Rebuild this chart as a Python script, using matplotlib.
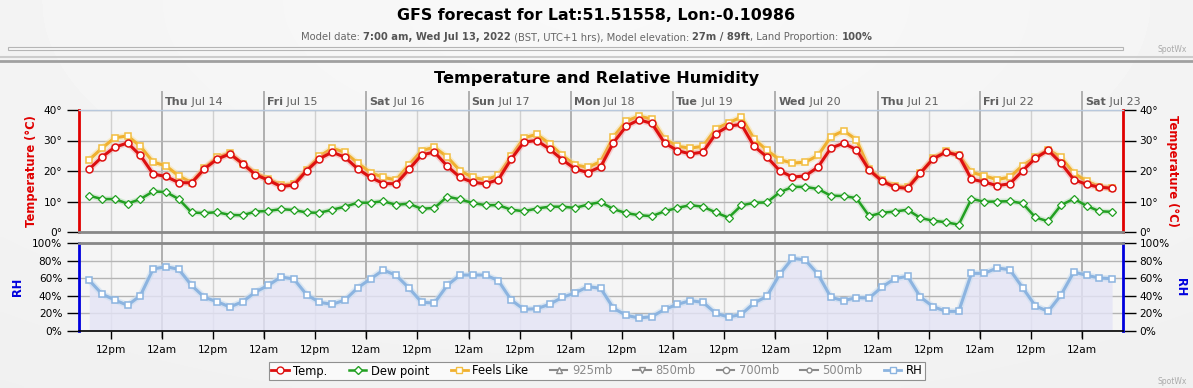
import numpy as np
import pandas as pd
import matplotlib
matplotlib.use("Agg")
import matplotlib.pyplot as plt
import matplotlib.dates as mdates
import matplotlib.patheffects as pe
from matplotlib.lines import Line2D
from matplotlib.patches import Rectangle
from matplotlib.transforms import blended_transform_factory

# 3-hourly GFS output starting at the model time
start = "2022-07-13 07:00"
temp = [20.6, 24.6, 27.8, 29.2, 25.1, 19.0, 18.2, 16.2, 16.1, 20.7, 23.9, 25.6, 22.4, 18.8, 17.0, 14.9,
        15.4, 20.1, 24.0, 26.2, 24.5, 20.7, 17.9, 15.9, 15.8, 20.5, 25.3, 26.2, 21.6, 17.9, 16.3, 15.8, 17.2,
        23.9, 29.5, 30.0, 27.2, 23.7, 20.7, 19.5, 21.4, 29.3, 34.7, 36.8, 35.6, 29.2, 26.7, 25.6, 26.2,
        32.2, 34.7, 35.3, 28.1, 24.6, 20.1, 18.0, 18.4, 21.3, 27.5, 29.1, 27.0, 20.3, 16.7, 14.7, 14.3, 19.3,
        24.0, 26.2, 25.1, 17.3, 16.4, 15.2, 15.8, 20.1, 24.2, 26.8, 22.6, 17.2, 15.6, 14.7, 14.3]
feels_like = [23.7, 27.5, 30.9, 31.5, 28.1, 22.9, 21.7, 18.4, 16.2, 20.9, 24.5, 25.9, 22.4, 19.3, 17.4, 15.4,
              15.8, 20.4, 24.8, 27.5, 26.1, 22.6, 19.5, 17.9, 17.1, 22.0, 26.7, 27.8, 24.6, 20.1, 17.9, 17.1, 18.6,
              24.8, 30.9, 32.0, 29.0, 25.1, 22.0, 21.2, 23.1, 31.2, 36.4, 38.0, 37.0, 30.5, 28.1, 27.5, 28.1,
              33.8, 35.8, 37.7, 30.5, 26.8, 23.7, 22.6, 22.9, 25.1, 31.2, 33.2, 30.3, 20.7, 17.0, 15.1, 14.8, 19.3,
              24.2, 26.4, 25.3, 19.6, 18.4, 17.2, 18.0, 21.8, 24.5, 27.0, 24.5, 19.3, 16.7, 14.9, 14.5]
dew_point = [11.9, 10.8, 10.8, 9.3, 10.8, 13.3, 13.1, 10.8, 6.4, 6.2, 6.5, 5.6, 5.5, 6.7, 6.9, 7.5,
             7.2, 6.4, 6.3, 7.3, 8.3, 9.6, 9.6, 10.1, 8.9, 9.3, 7.6, 7.9, 11.6, 10.7, 9.5, 8.8, 8.8,
             7.3, 6.8, 7.7, 8.3, 8.3, 7.9, 9.0, 9.8, 7.5, 6.2, 5.5, 5.2, 6.8, 7.9, 8.8, 8.3,
             6.4, 4.7, 8.7, 9.6, 9.7, 13.0, 14.8, 14.8, 14.1, 11.9, 11.8, 11.1, 5.2, 6.3, 6.7, 7.3, 4.6,
             3.7, 3.2, 2.4, 10.9, 9.9, 10.0, 10.1, 9.4, 4.8, 3.5, 8.8, 10.9, 8.6, 6.8, 6.6]
rh = [57.6, 42.0, 35.2, 29.2, 40.2, 70.5, 73.1, 70.1, 51.9, 38.3, 33.3, 27.3, 33.3, 44.3, 51.9, 61.4,
      59.1, 41.3, 32.6, 30.3, 35.2, 49.2, 59.1, 69.3, 63.3, 48.9, 32.6, 31.8, 51.9, 63.6, 63.6, 63.6, 57.2,
      35.2, 24.6, 25.4, 30.3, 38.3, 43.2, 50.4, 48.5, 25.8, 17.8, 14.8, 16.3, 24.6, 30.3, 34.5, 32.6,
      20.1, 15.9, 18.9, 31.8, 39.4, 64.4, 82.6, 80.7, 64.4, 38.3, 34.5, 37.9, 37.5, 50.0, 59.5, 62.1, 38.6,
      27.7, 22.3, 22.3, 65.5, 65.5, 71.6, 69.7, 49.2, 28.4, 22.3, 40.9, 67.0, 63.3, 60.2, 59.5]
temp_ticks = [0, 10, 20, 30, 40]
rh_ticks = [0, 20, 40, 60, 80, 100]
legend_labels = ["Temp.", "Dew point", "Feels Like", "925mb", "850mb", "700mb", "500mb", "RH"]

times = pd.date_range(start, periods=len(temp), freq="3h")
day0 = pd.Timestamp("2022-07-13")
xmin = day0 + pd.Timedelta(hours=4.6)
xmax = day0 + pd.Timedelta(hours=249.55)
midnights = pd.date_range("2022-07-14", "2022-07-23", freq="D")
noons = pd.date_range("2022-07-13 12:00", "2022-07-22 12:00", freq="D")

W, H = 1193, 388
fig = plt.figure(figsize=(W / 100, H / 100), dpi=100)


def fx(x):
    return x / W


def fy(y):
    return 1 - y / H


# background gradient
bg = fig.add_axes([0, 0, 1, 1], zorder=-5)
yy, xx = np.mgrid[0:1:100j, 0:1:200j]
shade = 0.975 - 0.035 * np.clip(np.sqrt(((xx - 0.5) * 1.1) ** 2 + (yy * 0.8) ** 2), 0, 1)
bg.imshow(shade, cmap="gray", vmin=0, vmax=1, aspect="auto", extent=[0, 1, 0, 1], interpolation="bilinear")
bg.set_xlim(0, 1)
bg.set_ylim(0, 1)
bg.axis("off")

# header
fig.text(0.5, fy(16), "GFS forecast for Lat:51.51558, Lon:-0.10986", ha="center", va="center",
         fontsize=11.4, fontweight="bold")
parts = [("Model date: ", "normal"), ("7:00 am, Wed Jul 13, 2022", "bold"),
         (" (BST, UTC+1 hrs), Model elevation: ", "normal"), ("27m / 89ft", "bold"),
         (", Land Proportion: ", "normal"), ("100%", "bold")]
prev = bg.text(fx(301), fy(37), parts[0][0], ha="left", va="center", fontsize=7.2, color="#666666")
for txt, wt in parts[1:]:
    prev = bg.annotate(txt, xy=(1, 0), xycoords=prev, ha="left", va="bottom", fontsize=7.2,
                       fontweight=wt, color="#555555" if wt == "bold" else "#666666")

fig.patches.append(Rectangle((fx(8), fy(50)), fx(1115), 3 / H, transform=fig.transFigure,
                             facecolor="#f6f6f6", edgecolor="#b5b5b5", lw=0.8))
fig.text(fx(1172), fy(50), "SpotWx", ha="center", va="center", fontsize=5.5, color="#aaaaaa")
fig.add_artist(Line2D([0, 1], [fy(57), fy(57)], transform=fig.transFigure, color="#cccccc", lw=1.5))
fig.add_artist(Line2D([0, 1], [fy(60.5), fy(60.5)], transform=fig.transFigure, color="#a0a0a0", lw=2))
fig.text(0.5, fy(78), "Temperature and Relative Humidity", ha="center", va="center",
         fontsize=11.6, fontweight="bold")
fig.text(fx(1172), fy(381), "SpotWx", ha="center", va="center", fontsize=5.5, color="#aaaaaa")

# panel axes
L, R = 79, 1123
ax_t = fig.add_axes([fx(L), fy(232), fx(R - L), (232 - 110) / H], facecolor="none")
ax_h = fig.add_axes([fx(L), fy(331), fx(R - L), (331 - 243) / H], facecolor="none")

# plot area background and midnight lines (figure level, behind the panels)
fig.patches.append(Rectangle((fx(L), fy(331)), fx(R - L), (331 - 110) / H, transform=fig.transFigure,
                             facecolor="#f5f5f5", edgecolor="none", zorder=-2))
for ax in (ax_t, ax_h):
    ax.set_xlim(xmin, xmax)
blend = blended_transform_factory(ax_t.transData, fig.transFigure)
for d in midnights:
    dn = mdates.date2num(d)
    fig.add_artist(Line2D([dn, dn], [fy(92), fy(337)], transform=blend, color="#b0b0b0", lw=1.4, zorder=-1))

for ax in (ax_t, ax_h):
    for n in noons:
        ax.axvline(n, color="#d0d0d0", lw=1, zorder=0.5)
    ax.grid(axis="y", color="#b4b4b4", lw=1)
    ax.set_axisbelow(True)
    ax.tick_params(axis="y", which="both", left=True, right=True, labelleft=True, labelright=True,
                   direction="out", length=9, width=1, labelsize=7.6, pad=3)

# temperature panel
glow = dict(solid_capstyle="round", solid_joinstyle="round")
ax_t.plot(times, dew_point, color="#22a022", lw=1.8, zorder=3,
          path_effects=[pe.Stroke(linewidth=4, foreground="#a8dca8", alpha=0.45), pe.Normal()], **glow)
ax_t.plot(times, dew_point, ls="none", marker="D", ms=3.6, mfc="white", mec="#22a022", mew=0.9, zorder=4)
ax_t.plot(times, feels_like, color="#f0b030", lw=2.2, zorder=5,
          path_effects=[pe.Stroke(linewidth=4.5, foreground="#f8dc90", alpha=0.45), pe.Normal()], **glow)
ax_t.plot(times, feels_like, ls="none", marker="s", ms=5, mfc="white", mec="#f3be40", mew=1.1, zorder=6)
ax_t.plot(times, temp, color="#dd1010", lw=2.2, zorder=7,
          path_effects=[pe.Stroke(linewidth=4.5, foreground="#f59090", alpha=0.4), pe.Normal()], **glow)
ax_t.plot(times, temp, ls="none", marker="o", ms=5, mfc="white", mec="#dd1010", mew=1.1, zorder=8)

ax_t.set_ylim(0, 40)
ax_t.set_yticks(temp_ticks)
ax_t.set_yticklabels([f"{v}°" for v in temp_ticks])
ax_t.set_xticks([])
ax_t.spines["left"].set(color="#e00000", lw=2)
ax_t.spines["right"].set(color="#e00000", lw=2)
ax_t.spines["top"].set(color="#b8c8dc", lw=1)
ax_t.spines["bottom"].set(color="#888888", lw=2)

# relative humidity panel
ax_h.fill_between(times, 0, rh, color="#e4e4f6", alpha=0.8, lw=0, zorder=1)
ax_h.plot(times, rh, color="#8cb4e0", lw=2.2, zorder=3,
          path_effects=[pe.Stroke(linewidth=4.5, foreground="#c8dcf0", alpha=0.6), pe.Normal()], **glow)
ax_h.plot(times, rh, ls="none", marker="s", ms=5, mfc="white", mec="#8cb4e0", mew=1.1, zorder=4)
ax_h.set_ylim(0, 100)
ax_h.set_yticks(rh_ticks)
ax_h.set_yticklabels([f"{v}%" for v in rh_ticks])
ax_h.spines["left"].set(color="#0000dd", lw=2)
ax_h.spines["right"].set(color="#0000dd", lw=2)
ax_h.spines["top"].set(color="#888888", lw=2)
ax_h.spines["bottom"].set(color="black", lw=1.2)

xt = sorted(list(noons) + list(midnights))
ax_h.set_xticks(xt)
ax_h.set_xticklabels(["12pm" if t.hour == 12 else "12am" for t in xt])
ax_h.tick_params(axis="x", direction="out", length=6, width=1, labelsize=7.6, pad=4)

# day labels above the chart
for d in midnights:
    t1 = ax_t.annotate(d.strftime("%a"), xy=(mdates.date2num(d), 1), xycoords=("data", "axes fraction"),
                       xytext=(3, 3), textcoords="offset pixels", ha="left", va="bottom",
                       fontsize=8, fontweight="bold", color="#606060", annotation_clip=False)
    ax_t.annotate(" " + d.strftime("%b %-d"), xy=(1, 0), xycoords=t1, ha="left", va="bottom",
                  fontsize=8, color="#606060", annotation_clip=False)

# axis titles
fig.text(fx(31), fy(171), "Temperature (°C)", rotation=90, ha="center", va="center",
         fontsize=8.3, fontweight="bold", color="#e00000")
fig.text(fx(1172), fy(171), "Temperature (°C)", rotation=270, ha="center", va="center",
         fontsize=8.3, fontweight="bold", color="#e00000")
fig.text(fx(18), fy(287), "RH", rotation=90, ha="center", va="center",
         fontsize=8.3, fontweight="bold", color="#0000dd")
fig.text(fx(1181), fy(287), "RH", rotation=270, ha="center", va="center",
         fontsize=8.3, fontweight="bold", color="#0000dd")

# legend
gray = "#8a8a8a"
handles = [
    Line2D([], [], color="#dd1010", lw=2, marker="o", ms=5, mfc="white", mec="#dd1010"),
    Line2D([], [], color="#22a022", lw=1.8, marker="D", ms=3.6, mfc="white", mec="#22a022"),
    Line2D([], [], color="#f0b030", lw=2, marker="s", ms=5, mfc="white", mec="#f3be40"),
    Line2D([], [], color=gray, lw=1.5, marker="^", ms=4.5, mfc="white", mec=gray),
    Line2D([], [], color=gray, lw=1.5, marker="v", ms=4.5, mfc="white", mec=gray),
    Line2D([], [], color=gray, lw=1.5, marker="o", ms=4.5, mfc="white", mec=gray),
    Line2D([], [], color=gray, lw=1.5, marker="o", ms=3.5, mfc="white", mec=gray),
    Line2D([], [], color="#8cb4e0", lw=2, marker="s", ms=5, mfc="white", mec="#8cb4e0"),
]
leg = fig.legend(handles, legend_labels, loc="center", bbox_to_anchor=(fx(597), fy(371)), ncol=8,
                 fontsize=8.3, frameon=True, fancybox=False, edgecolor="#909090", facecolor="#fafafa",
                 framealpha=1, handlelength=1.5, handletextpad=0.4, columnspacing=1.85, borderpad=0.25)
leg.get_frame().set_linewidth(0.8)
for txt, lab in zip(leg.get_texts(), legend_labels):
    if lab.endswith("mb"):
        txt.set_color(gray)

fig.savefig("out.png", dpi=100)
